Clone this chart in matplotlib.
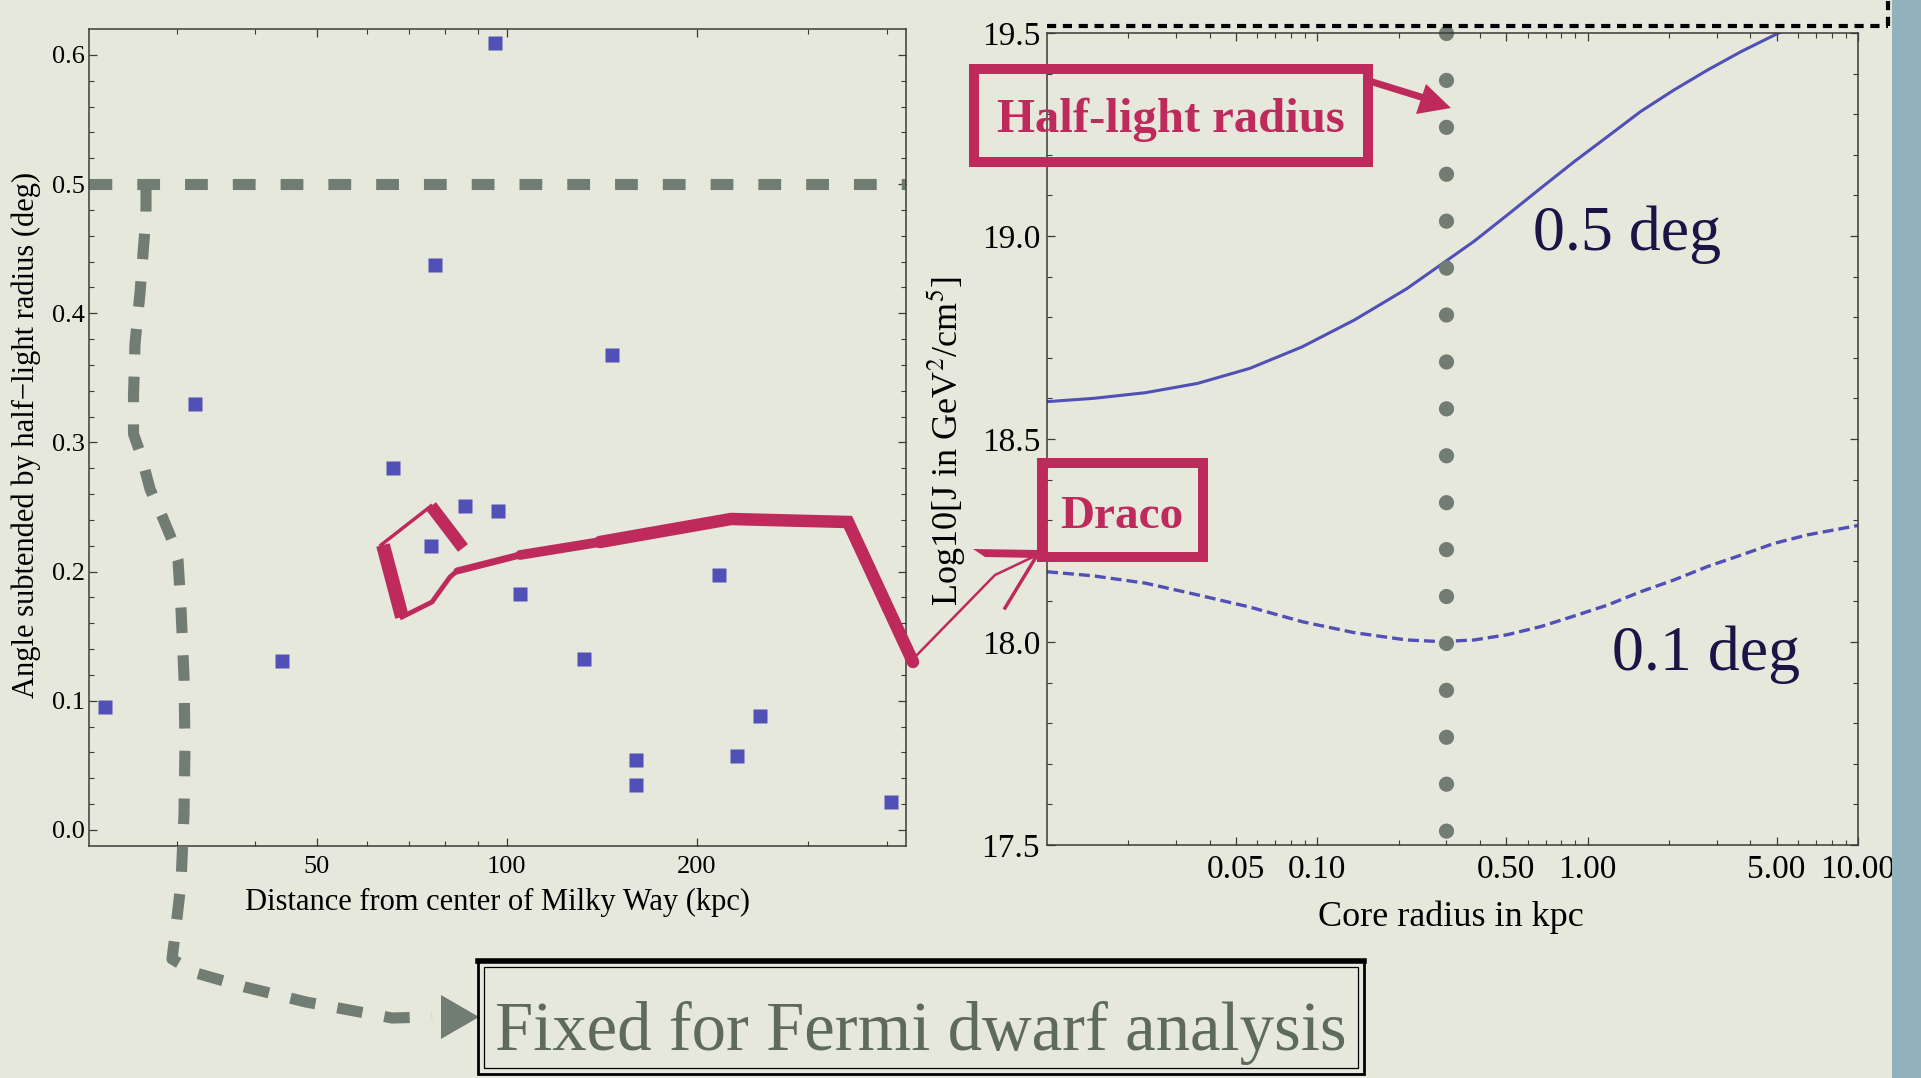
import matplotlib
matplotlib.use("Agg")
import matplotlib.pyplot as plt
import numpy as np
from matplotlib.ticker import FixedLocator, FixedFormatter, NullFormatter
from matplotlib.patches import Polygon, Rectangle

W, H = 1921, 1078
BG = '#e6e8dc'
MAGENTA = '#bf2a5d'
GRAY = '#717c73'
BLUE = '#5050b6'
NAVY = '#1b1445'

plt.rcParams['font.family'] = ['Liberation Serif', 'DejaVu Serif']
plt.rcParams['mathtext.fontset'] = 'stix'

# Left panel: dwarf galaxies, distance (kpc) vs half-light angle (deg)
dist_kpc = [23.1, 32.1, 44, 66, 76, 77, 86, 96, 97, 105,
            132.8, 146.9, 160, 160, 217, 232, 252, 406]
angle_deg = [0.095, 0.330, 0.131, 0.280, 0.220, 0.4375, 0.251, 0.609, 0.247, 0.183,
             0.132, 0.368, 0.054, 0.035, 0.197, 0.057, 0.088, 0.022]
fixed_angle = 0.5

# Right panel: J-factor vs core radius
core_r_05 = [0.01, 0.0148, 0.0231, 0.0361, 0.0563, 0.0879, 0.137, 0.214, 0.286, 0.380,
             0.505, 0.671, 0.891, 1.185, 1.573, 2.09, 2.78, 3.69, 5.05, 10.0]
logJ_05 = [18.592, 18.600, 18.614, 18.637, 18.674, 18.727, 18.793, 18.870, 18.929, 18.987,
           19.052, 19.118, 19.183, 19.245, 19.307, 19.360, 19.409, 19.454, 19.499, 19.58]
core_r_01 = [0.01, 0.0148, 0.0231, 0.0361, 0.0563, 0.0879, 0.137, 0.214, 0.286, 0.380,
             0.505, 0.671, 0.891, 1.185, 1.573, 2.09, 2.78, 3.69, 4.90, 6.52, 10.0]
logJ_01 = [18.173, 18.163, 18.145, 18.116, 18.086, 18.050, 18.023, 18.005, 18.001, 18.005,
           18.018, 18.038, 18.064, 18.091, 18.124, 18.153, 18.186, 18.214, 18.243, 18.264, 18.287]
draco_rhalf = 0.3

left_xticks = [50, 100, 200]
left_xminor = [30, 40, 60, 70, 80, 90, 300, 400]
left_yticks = [0.0, 0.1, 0.2, 0.3, 0.4, 0.5, 0.6]
right_xticks = [0.05, 0.1, 0.5, 1.0, 5.0, 10.0]
right_xlabels = ['0.05', '0.10', '0.50', '1.00', '5.00', '10.00']
right_xminor = [0.02, 0.03, 0.04, 0.06, 0.07, 0.08, 0.09, 0.2, 0.3, 0.4,
                0.6, 0.7, 0.8, 0.9, 2, 3, 4, 6, 7, 8, 9]
right_yticks = [17.5, 18.0, 18.5, 19.0, 19.5]

# slide decorations (pixel coords on the slide)
fermi_curve = [(146, 186), (146, 215), (140, 293), (135, 344), (133.5, 396), (133.5, 434),
               (141, 455), (150, 489), (162, 516), (172, 540), (178, 560), (181, 609),
               (184, 677), (185, 746), (184, 814), (181, 883), (175, 935), (172, 959),
               (196, 973), (245, 987), (306, 1002), (392, 1018), (432, 1017)]


def box_axes(x0, y0, x1, y1):
    return [x0 / W, 1 - y1 / H, (x1 - x0) / W, (y1 - y0) / H]


fig = plt.figure(figsize=(W / 100, H / 100), dpi=100)
fig.patch.set_facecolor(BG)


def style_axes(ax, fs, xpad, ypad):
    ax.patch.set_alpha(0)
    for s in ax.spines.values():
        s.set_color('#3a3a3a')
        s.set_linewidth(1.1)
    ax.tick_params(which='both', direction='in', top=True, right=True, colors='#3a3a3a',
                   labelcolor='black', labelsize=fs)
    ax.tick_params(which='major', length=6, width=0.9)
    ax.tick_params(which='minor', length=3.5, width=0.8)
    ax.tick_params(axis='x', pad=xpad)
    ax.tick_params(axis='y', pad=ypad)


# ---- left panel
ax1 = fig.add_axes(box_axes(89, 29, 906, 846))
ax1.set_xscale('log')
ax1.plot(dist_kpc, angle_deg, 's', color=BLUE, ms=9.6, mec='none')
ax1.axhline(fixed_angle, color=GRAY, lw=8, dashes=(2.05, 2.25))
ax1.set_xlim(21.8, 429)
ax1.set_ylim(-0.0124, 0.62)
ax1.xaxis.set_major_locator(FixedLocator(left_xticks))
ax1.xaxis.set_major_formatter(FixedFormatter([str(t) for t in left_xticks]))
ax1.xaxis.set_minor_locator(FixedLocator(left_xminor))
ax1.xaxis.set_minor_formatter(NullFormatter())
ax1.yaxis.set_major_locator(FixedLocator(left_yticks))
ax1.yaxis.set_major_formatter(FixedFormatter(['%.1f' % t for t in left_yticks]))
ax1.yaxis.set_minor_locator(FixedLocator(np.arange(0, 0.62, 0.02)))
style_axes(ax1, 19, 7, 3)

# ---- right panel
ax2 = fig.add_axes(box_axes(1047, 33, 1858, 845))
ax2.set_xscale('log')
ax2.plot(core_r_05, logJ_05, color=BLUE, lw=2.2)
ax2.plot(core_r_01, logJ_01, color=BLUE, lw=2.4, dashes=(3.3, 1.5))
ax2.plot([draco_rhalf, draco_rhalf], [19.5, 17.5], color=GRAY, lw=11,
         dashes=(0.001, 3.07), dash_capstyle='round', clip_on=False)
ax2.set_xlim(0.01, 10.0)
ax2.set_ylim(17.5, 19.5)
ax2.xaxis.set_major_locator(FixedLocator(right_xticks))
ax2.xaxis.set_major_formatter(FixedFormatter(right_xlabels))
ax2.xaxis.set_minor_locator(FixedLocator(right_xminor))
ax2.xaxis.set_minor_formatter(NullFormatter())
ax2.yaxis.set_major_locator(FixedLocator(right_yticks))
ax2.yaxis.set_major_formatter(FixedFormatter(['%.1f' % t for t in right_yticks]))
ax2.yaxis.set_minor_locator(FixedLocator(np.arange(17.5, 19.55, 0.1)))
style_axes(ax2, 24, 7, 5)

# ---- overlay for slide annotations
ov = fig.add_axes([0, 0, 1, 1], zorder=5)
ov.set_xlim(0, W)
ov.set_ylim(H, 0)
ov.axis('off')

# axis labels
ov.text(497.5, 910, 'Distance from center of Milky Way (kpc)', ha='center', va='baseline', fontsize=22)
ov.text(26, 435, 'Angle subtended by half\u2212light radius (deg)', rotation=90,
        ha='center', va='center', fontsize=22)
ov.text(1451, 926, 'Core radius in kpc', ha='center', va='baseline', fontsize=26)
ov.text(947, 441, 'Log10[J in GeV$^2$/cm$^5$]', rotation=90, ha='center', va='center', fontsize=26)

# gray dashed arrow to the bottom box
fx, fy = zip(*fermi_curve)
ov.plot(fx, fy, color=GRAY, lw=8, dashes=(2.3, 2.0))
ov.add_patch(Polygon([(441, 995), (479, 1017), (441, 1039)], color=GRAY, lw=0))

# bottom box
ov.add_patch(Rectangle((478, 961), 886, 113, fill=False, ec='black', lw=2))
ov.add_patch(Rectangle((484, 967), 874, 101, fill=False, ec='black', lw=0.9))
ov.plot([478, 1364], [961, 961], color='black', lw=4)
ov.text(495, 1050, 'Fixed for Fermi dwarf analysis', ha='left', va='baseline',
        fontsize=49.5, color='#5e6a5d')

# Draco lasso
ov.plot([463, 431], [548, 506], color=MAGENTA, lw=9, solid_capstyle='butt')
ov.plot([431, 381], [506, 545], color=MAGENTA, lw=2.5)
ov.plot([383, 402], [545, 617], color=MAGENTA, lw=10, solid_capstyle='butt')
ov.plot([402, 432, 450, 457], [617, 602, 577, 571], color=MAGENTA, lw=3.5)
ov.plot([457, 520], [571, 555], color=MAGENTA, lw=5, solid_capstyle='round')
ov.plot([520, 600], [555, 542], color=MAGENTA, lw=7, solid_capstyle='round')
ov.plot([600, 731, 848, 913], [542, 519, 522, 662], color=MAGENTA, lw=9,
        solid_joinstyle='miter', solid_capstyle='round')
ov.plot([914, 995, 1035], [658, 575, 556], color=MAGENTA, lw=1.8)
ov.add_patch(Polygon([(973, 549), (1038, 550), (1038, 558), (985, 557)], color=MAGENTA, lw=0))
ov.plot([1036, 1005], [557, 608], color=MAGENTA, lw=2.5)

# Draco box
ov.add_patch(Rectangle((1042, 463), 161, 94, fill=False, ec=MAGENTA, lw=7.2, joinstyle='miter'))
ov.text(1122, 528, 'Draco', ha='center', va='baseline', fontsize=34, fontweight='bold', color=MAGENTA)

# Half-light radius box
ov.add_patch(Rectangle((974, 69), 394, 93, fill=False, ec=MAGENTA, lw=7.2, joinstyle='miter'))
ov.text(1171, 132, 'Half-light radius', ha='center', va='baseline', fontsize=35,
        fontweight='bold', color=MAGENTA)
ov.plot([1366, 1434], [80, 101], color=MAGENTA, lw=5, solid_capstyle='butt')
ov.add_patch(Polygon([(1426, 84), (1451, 108), (1416, 114)], color=MAGENTA, lw=0))

# curve labels
ov.text(1533, 250, '0.5 deg', ha='left', va='baseline', fontsize=46, color=NAVY)
ov.text(1612, 670, '0.1 deg', ha='left', va='baseline', fontsize=46, color=NAVY)

# top dotted frame and right edge strip
ov.plot([1047, 1888], [26, 26], color='black', lw=3, dashes=(2.2, 1.6))
ov.plot([1888, 1888], [26, 0], color='black', lw=3, dashes=(2.2, 1.6))
ov.add_patch(Rectangle((1892, 0), 29, H, color='#92b1bd', lw=0))

fig.savefig('out.png', dpi=100, facecolor=BG)
